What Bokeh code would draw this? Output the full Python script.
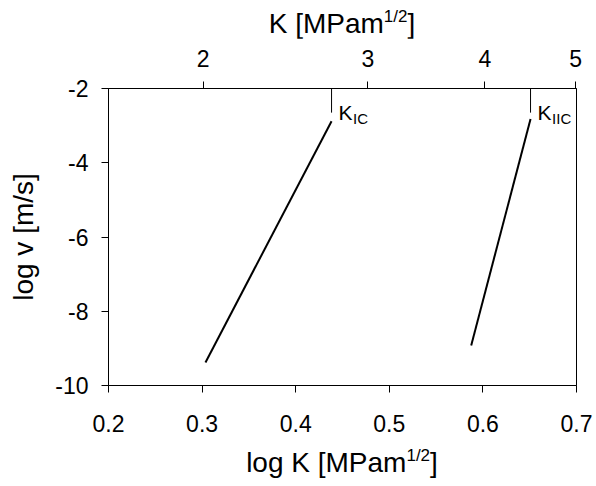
from bokeh.plotting import figure
from bokeh.models import (LinearAxis, FixedTicker, Range1d, LogScale, Label,
                          PrintfTickFormatter, Div)
from bokeh.layouts import column
from bokeh.embed import file_html
from bokeh.resources import INLINE

# ---- data ----
logK_IC = [0.3036, 0.4383]
logv_IC = [-9.38, -2.88]
logK_IIC = [0.5875, 0.6509]
logv_IIC = [-8.92, -2.82]
marker_top = -2.0
marker_bottom = -2.65

x_ticks = [0.2, 0.3, 0.4, 0.5, 0.6, 0.7]
y_ticks = [-10, -8, -6, -4, -2]
top_ticks = [2, 3, 4, 5]

FONT = "Liberation Sans"
W = 596
TOP_H, BOT_H = 38, 40
FIG_H = 486 - TOP_H - BOT_H
L, R = 108, 576
T, B = 88 - TOP_H, 385 - TOP_H   # frame edges inside the figure

p = figure(width=W, height=FIG_H, x_range=(0.2, 0.7), y_range=(-10, -2),
           output_backend="svg", toolbar_location=None,
           min_border_left=L, min_border_right=W - R,
           min_border_top=T, min_border_bottom=FIG_H - B)
p.extra_x_ranges = {"K": Range1d(10 ** 0.2, 10 ** 0.7)}
p.extra_x_scales = {"K": LogScale()}

p.xgrid.visible = False
p.ygrid.visible = False
p.outline_line_color = "black"
p.outline_line_width = 1
p.background_fill_color = "white"
p.border_fill_color = "white"

def style(ax, standoff):
    ax.major_label_text_font = FONT
    ax.major_label_text_font_size = "23px"
    ax.major_label_text_color = "black"
    ax.axis_line_color = "black"
    ax.major_tick_line_color = "black"
    ax.major_tick_in = 0
    ax.major_tick_out = 7
    ax.minor_tick_line_color = None
    ax.major_label_standoff = standoff

xa = p.xaxis[0]
xa.ticker = FixedTicker(ticks=x_ticks)
xa.formatter = PrintfTickFormatter(format="%.1f")
style(xa, 22)

ya = p.yaxis[0]
ya.ticker = FixedTicker(ticks=y_ticks)
ya.formatter = PrintfTickFormatter(format="%d")
style(ya, 13)
ya.axis_label = "log v [m/s]"
ya.axis_label_text_font = FONT
ya.axis_label_text_font_size = "28px"
ya.axis_label_text_font_style = "normal"
ya.axis_label_text_color = "black"
ya.axis_label_standoff = 13

ta = LinearAxis(x_range_name="K", ticker=FixedTicker(ticks=top_ticks),
                formatter=PrintfTickFormatter(format="%d"))
style(ta, 15)
p.add_layout(ta, "above")

# ---- lines ----
p.line(logK_IC, logv_IC, line_color="black", line_width=2)
p.line(logK_IIC, logv_IIC, line_color="black", line_width=2)
p.segment(x0=[logK_IC[-1], logK_IIC[-1]], y0=[marker_top, marker_top],
          x1=[logK_IC[-1], logK_IIC[-1]], y1=[marker_bottom, marker_bottom],
          line_color="black", line_width=1)

# ---- K_IC / K_IIC labels (inside the frame) ----
def dx(px):
    return 0.2 + (px - L) / (R - L) * 0.5

def dy(py):
    return -2 - (py - T) / (B - T) * 8

def lab(px, py, text, size):
    p.add_layout(Label(x=dx(px), y=dy(py), text=text, text_font=FONT,
                       text_font_size=f"{size}px", text_color="black",
                       text_align="left", text_baseline="alphabetic"))

def ksub(xdata, sub):
    px = L + (xdata - 0.2) / 0.5 * (R - L)
    kx = px + 7
    lab(kx, 112 - TOP_H, "K", 21)
    lab(kx + 0.667 * 21 + 0.5, 118 - TOP_H, sub, 15)

ksub(logK_IC[-1], "IC")
ksub(logK_IIC[-1], "IIC")

# ---- axis titles with superscripts ----
def title_html(main, pad_top):
    return (f'<div style="margin-left:{L}px;width:{R - L}px;text-align:center;'
            f'font-family:\'{FONT}\';font-size:28px;line-height:28px;'
            f'padding-top:{pad_top}px;color:black;white-space:nowrap">'
            f'{main}<span style="font-size:17px;position:relative;top:-11px">1/2</span>]'
            f'</div>')

top_div = Div(text=title_html("K [MPam", 10), width=W, height=TOP_H,
              styles={"margin": "0", "padding": "0"})
bot_div = Div(text=title_html("log K [MPam", 3), width=W, height=BOT_H,
              styles={"margin": "0", "padding": "0"})

layout = column(top_div, p, bot_div, spacing=0)
open("out.html", "w").write(file_html(layout, INLINE))
